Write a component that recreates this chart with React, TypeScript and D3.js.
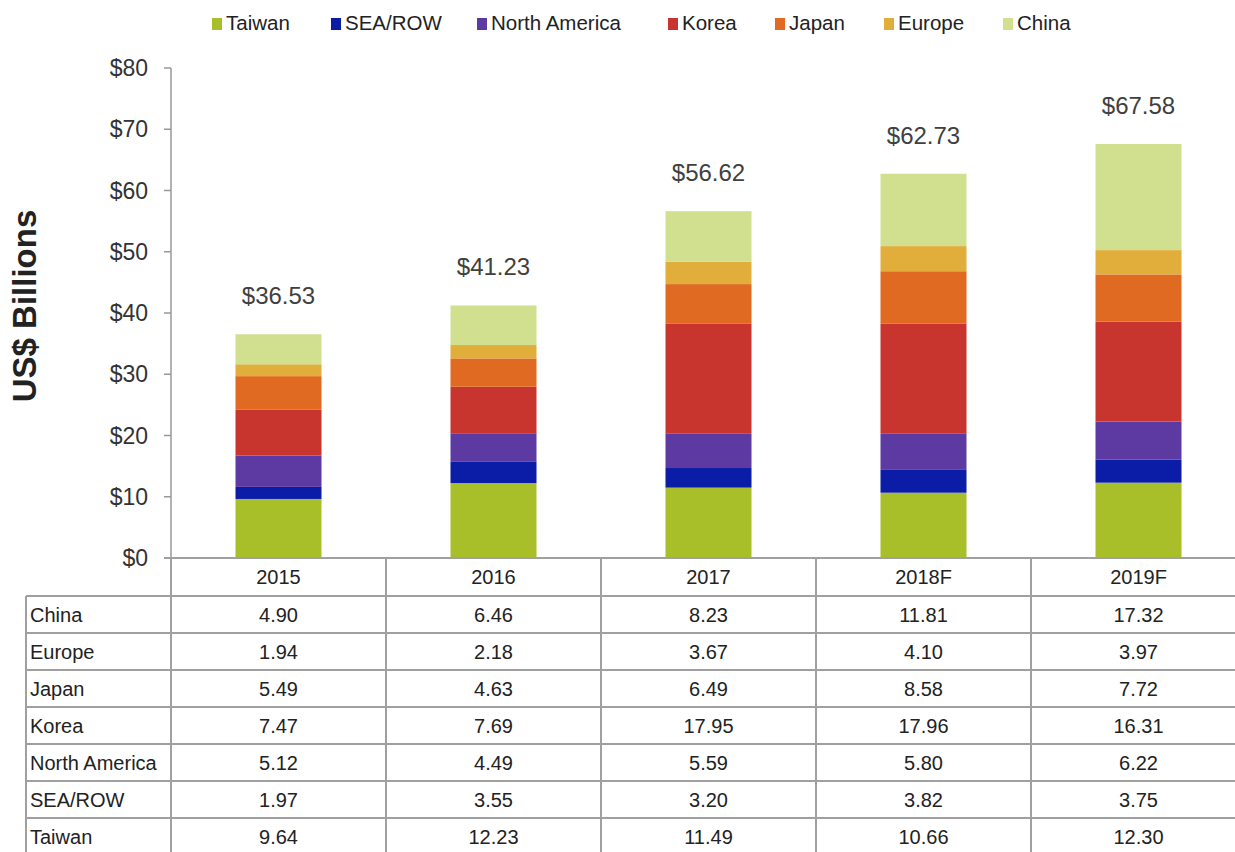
import React from "react";
import * as d3 from "d3";

const years = ["2015", "2016", "2017", "2018F", "2019F"];
const regions = ["Taiwan", "SEA/ROW", "North America", "Korea", "Japan", "Europe", "China"];
const colors = ["#a8bf2a", "#0b1ca6", "#5c3aa2", "#c8352f", "#e06a21", "#e2ae3b", "#d0e08f"];

const taiwan = [9.64, 12.23, 11.49, 10.66, 12.3];
const seaRow = [1.97, 3.55, 3.2, 3.82, 3.75];
const northAmerica = [5.12, 4.49, 5.59, 5.8, 6.22];
const korea = [7.47, 7.69, 17.95, 17.96, 16.31];
const japan = [5.49, 4.63, 6.49, 8.58, 7.72];
const europe = [1.94, 2.18, 3.67, 4.1, 3.97];
const china = [4.9, 6.46, 8.23, 11.81, 17.32];
const totalLabels = [36.53, 41.23, 56.62, 62.73, 67.58];

const seriesValues = [taiwan, seaRow, northAmerica, korea, japan, europe, china];
const yTicks = [0, 10, 20, 30, 40, 50, 60, 70, 80];
const tableOrder = ["China", "Europe", "Japan", "Korea", "North America", "SEA/ROW", "Taiwan"];

const FONT = "'Liberation Sans', Arial, Helvetica, sans-serif";

export default function App() {
  const W = 1235, H = 852;
  const plotLeft = 171, plotRight = 1246;
  const y0 = 558, yTop = 68;

  const x = d3.scaleBand<string>().domain(years).range([plotLeft, plotRight]).paddingInner(0.6).paddingOuter(0.3);
  const xCol = d3.scaleBand<string>().domain(years).range([plotLeft, plotRight]);
  const y = d3.scaleLinear().domain([0, 80]).range([y0, yTop]);

  const rows = years.map((yr, i) => {
    const r: any = { year: yr };
    regions.forEach((reg, k) => (r[reg] = seriesValues[k][i]));
    return r;
  });
  const stack = d3.stack<any>().keys(regions)(rows);

  const legendX = [212, 331, 477, 668, 775, 884, 1003];

  const headerTop = y0, headerBottom = 596;
  const rowH = 37;
  const tableLeft = 26;
  const lineColor = "#a0a0a0";

  return (
    <svg width={W} height={H} style={{ position: "absolute", left: 0, top: 0, background: "#fff" }} fontFamily={FONT}>
      <rect x={0} y={0} width={W} height={H} fill="#fff" />
      {/* Legend */}
      {regions.map((r, i) => (
        <g key={r}>
          <rect x={legendX[i]} y={18} width={10} height={12} fill={colors[i]} />
          <text x={legendX[i] + 14} y={23} dy="0.35em" fontSize={20.5} fill="#222">{r}</text>
        </g>
      ))}

      {/* Y axis */}
      <line x1={plotLeft} x2={plotLeft} y1={yTop} y2={y0} stroke="#999" strokeWidth={1.5} />
      {yTicks.map((t) => (
        <g key={t}>
          <line x1={164} x2={plotLeft} y1={y(t)} y2={y(t)} stroke="#999" strokeWidth={1.5} />
          <text x={148} y={y(t)} dy="0.35em" textAnchor="end" fontSize={23} fill="#333">{"$" + t}</text>
        </g>
      ))}
      <text transform={`translate(36,306) rotate(-90)`} textAnchor="middle" fontSize={33} fontWeight="bold" fill="#222">US$ Billions</text>

      {/* Bars */}
      {stack.map((layer, k) => (
        <g key={regions[k]} fill={colors[k]}>
          {layer.map((d, i) => (
            <rect key={i} x={x(years[i])} width={x.bandwidth()} y={y(d[1])} height={y(d[0]) - y(d[1])} />
          ))}
        </g>
      ))}

      {/* Totals */}
      {totalLabels.map((t, i) => (
        <text key={i} x={(x(years[i]) as number) + x.bandwidth() / 2} y={y(t) - 30} textAnchor="middle" fontSize={24} fill="#404040">
          {"$" + t.toFixed(2)}
        </text>
      ))}

      {/* Table */}
      <line x1={164} x2={plotRight} y1={headerTop} y2={headerTop} stroke={lineColor} strokeWidth={2} />
      {years.map((yr) => (
        <g key={yr}>
          <line x1={xCol(yr)} x2={xCol(yr)} y1={headerTop} y2={H + 10} stroke={lineColor} strokeWidth={2} />
          <text x={(xCol(yr) as number) + xCol.bandwidth() / 2} y={(headerTop + headerBottom) / 2} dy="0.35em" textAnchor="middle" fontSize={20} fill="#222">{yr}</text>
        </g>
      ))}
      <line x1={tableLeft} x2={tableLeft} y1={headerBottom} y2={H + 10} stroke={lineColor} strokeWidth={2} />
      {tableOrder.map((reg, j) => {
        const top = headerBottom + j * rowH;
        const k = regions.indexOf(reg);
        return (
          <g key={reg}>
            <line x1={tableLeft} x2={plotRight} y1={top} y2={top} stroke={lineColor} strokeWidth={2} />
            <text x={tableLeft + 4} y={top + rowH / 2} dy="0.35em" fontSize={20} fill="#222">{reg}</text>
            {years.map((yr, i) => (
              <text key={yr} x={(xCol(yr) as number) + xCol.bandwidth() / 2} y={top + rowH / 2} dy="0.35em" textAnchor="middle" fontSize={20} fill="#222">
                {seriesValues[k][i].toFixed(2)}
              </text>
            ))}
          </g>
        );
      })}
    </svg>
  );
}
